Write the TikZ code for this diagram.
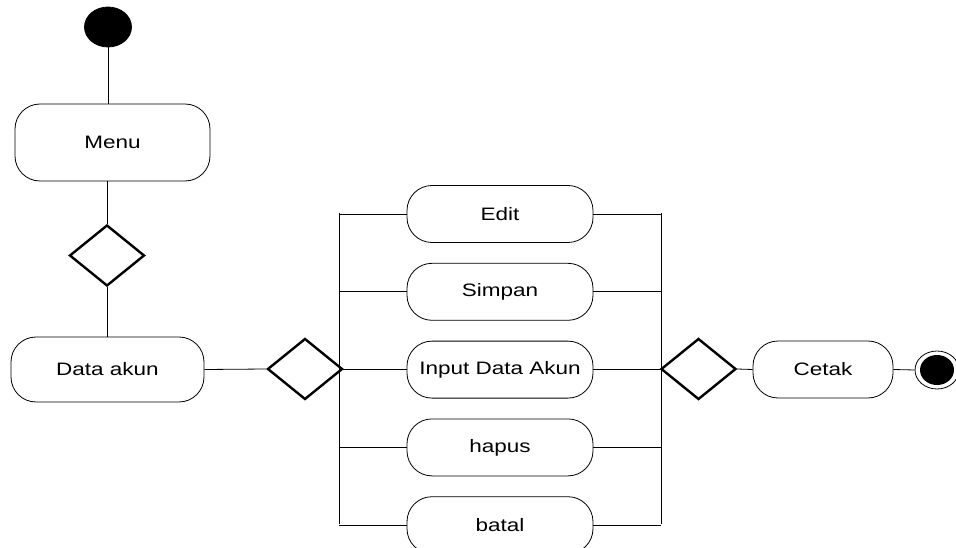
\documentclass[tikz,border=0pt]{standalone}
\usepackage{fontspec}
\setmainfont[FakeStretch=1.25]{Liberation Sans}
\usepackage{tikz}
\usetikzlibrary{positioning}
\usetikzlibrary{shapes}

\begin{document}
\begin{tikzpicture}[
 x=1pt, y=-1pt,
 line width=0.8pt,
 every node/.style = {font=\fontsize{18}{20}\selectfont},
 actblock/.style = {draw, rectangle, rounded corners=25pt, minimum height=57pt, minimum width=186pt, align=center},
 bigblock/.style = {actblock, minimum height=77pt, minimum width=195pt},
 decision/.style = {draw, diamond, line width=2.4pt, minimum width=75pt, minimum height=61pt, inner sep=0pt},
 startnode/.style = {draw, ellipse, fill=black, minimum width=47pt, minimum height=40pt, inner sep=0pt},
 endouter/.style = {draw, ellipse, minimum width=44pt, minimum height=38pt, inner sep=0pt},
 endinner/.style = {ellipse, fill=black, minimum width=34pt, minimum height=30pt, inner sep=0pt},
                        ]
    \useasboundingbox (0,0) rectangle (956,548);
    \clip (0,0) rectangle (956,548);

    \node [startnode] (start) at (108,27) {};
    \node [bigblock] (menu) at (112.5,142.5) {Menu};
    \node [decision] (dec1) at (107,255.5) {};
    \node [actblock, minimum height=65pt, minimum width=193pt] (dataakun) at (107.5,369.5) {Data akun};
    \node [decision] (dec2) at (305,369) {};

    \node [actblock] (edit) at (500,214) {Edit};
    \node [actblock, below=20pt of edit] (simpan) {Simpan};
    \node [actblock, below=20pt of simpan] (input) {Input Data Akun};
    \node [actblock, below=20pt of input] (hapus) {hapus};
    \node [actblock, below=20pt of hapus] (batal) {batal};

    \coordinate (ltop) at (339,213);
    \coordinate (lbot) at (339,524);
    \coordinate (rtop) at (661,213);
    \coordinate (rbot) at (661,524);

    \node [decision] (dec3) at (698.5,369) {};
    \node [actblock, minimum width=140pt] (cetak) at (823,369.5) {Cetak};
    \node [endouter] (finish) at (937,370) {};
    \node [endinner] at (finish) {};

    \draw (start) -- (start |- menu.north);
    \draw (dec1.north) -- (dec1 |- menu.south);
    \draw (dec1.south) -- (dec1 |- dataakun.north);
    \draw (dataakun.east) -- (dec2.west);
    \draw (ltop) -- (lbot);
    \draw (rtop) -- (rbot);
    \foreach \b in {edit,simpan,input,hapus,batal} {
      \draw (\b.west) -- (\b.west -| ltop);
      \draw (\b.east) -- (\b.east -| rtop);
    }
    \draw (dec3.east) -- (cetak.west);
    \draw (cetak.east) -- (finish.west);

\end{tikzpicture}
\end{document}
